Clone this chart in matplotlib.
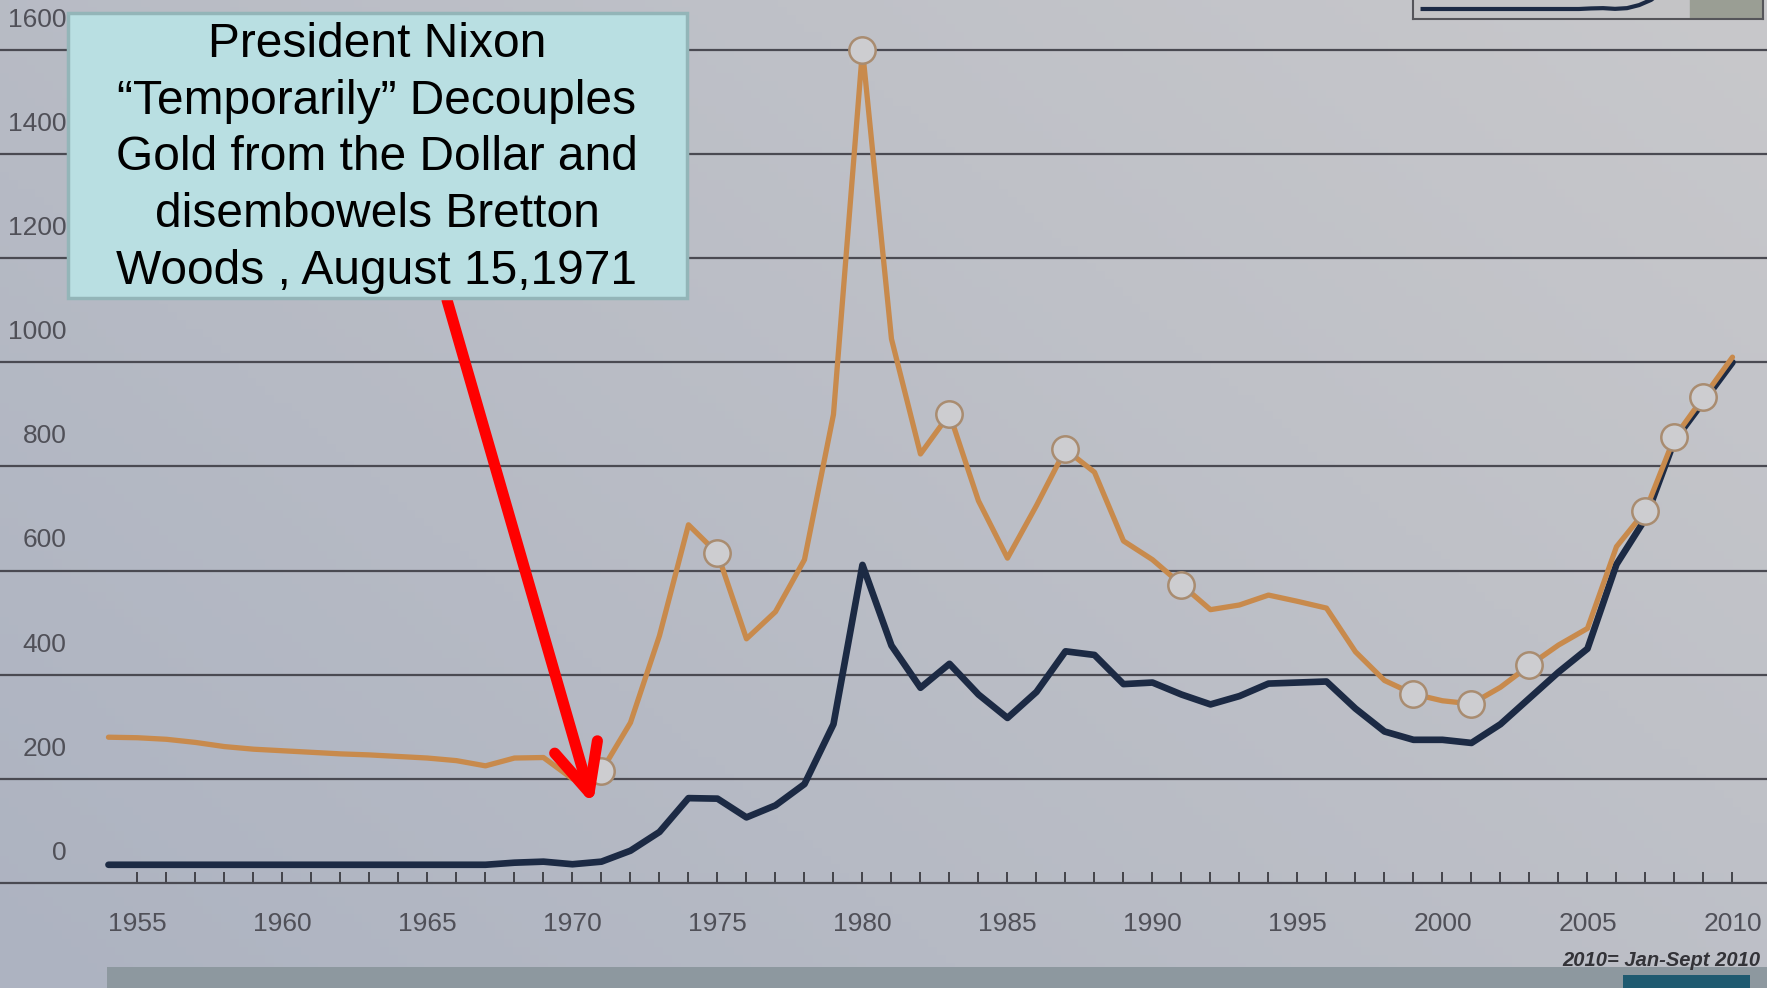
import numpy as np
import matplotlib.pyplot as plt
from matplotlib.patches import Rectangle
from matplotlib.colors import LinearSegmentedColormap

plt.rcParams['font.family'] = ['Liberation Sans', 'DejaVu Sans']

# annual gold price, US$/oz: inflation adjusted (gold) and nominal (navy)
years = list(range(1954, 2011))
real_price = [280, 279, 276, 270, 262, 257, 254, 251, 248, 246,
              243, 240, 235, 225, 240, 241, 200, 215, 308, 475,
              688, 633, 469, 521, 621, 900, 1600, 1045, 824, 901,
              734, 624, 725, 833, 789, 657, 621, 573, 525, 534,
              553, 541, 528, 444, 389, 363, 350, 344, 376, 418,
              457, 489, 646, 715, 856, 933, 1010]
nominal_price = [35, 35, 35, 35, 35, 35, 35, 35, 35, 35,
                 35, 35, 35, 35, 39, 41, 36, 41, 62, 98,
                 163, 162, 126, 149, 190, 305, 611, 456, 375, 421,
                 362, 317, 367, 445, 438, 382, 385, 362, 343, 359,
                 383, 385, 387, 335, 291, 275, 275, 269, 305, 355,
                 405, 450, 612, 700, 850, 925, 1000]
marked_years = [1971, 1975, 1980, 1983, 1987, 1991, 1999, 2001, 2003, 2007, 2008, 2009]
grid_values = list(range(0, 1601, 200))
label_years = list(range(1955, 2011, 5))

note = ("President Nixon\n“Temporarily” Decouples\nGold from the Dollar and\n"
        "disembowels Bretton\nWoods , August 15,1971")
footnote = "2010= Jan-Sept 2010"

W, H = 1767, 988
fig = plt.figure(figsize=(W / 100, H / 100), dpi=100)

# screen backlight
bg = fig.add_axes([0, 0, 1, 1], zorder=-5)
xx, yy = np.meshgrid(np.linspace(0, 1, 200), np.linspace(0, 1, 120))
shade = 0.6 * xx + 0.4 * yy
screen = LinearSegmentedColormap.from_list('screen', ['#adb3c1', '#c8c8cb'])
bg.imshow(shade, cmap=screen, aspect='auto', origin='lower', extent=[0, 1, 0, 1])
bg.axis('off')

ax = fig.add_axes([0, 0, 1, 1])
ax.patch.set_alpha(0)
ax.set_xlim(1950.26, 2011.19)
ax.set_ylim(-201.7, 1696)

for v in grid_values:
    if v > 0:
        ax.axhline(v, color='#4a4a52', lw=1.6, zorder=1)
    ax.text(0.0375, v + 58, str(v), transform=ax.get_yaxis_transform(),
            ha='right', va='center', fontsize=19, color='#505058')

for side in ['top', 'right', 'left']:
    ax.spines[side].set_visible(False)
ax.spines['bottom'].set_position(('data', 0))
ax.spines['bottom'].set_color('#4a4a52')
ax.spines['bottom'].set_linewidth(1.6)

ax.set_yticks([])
ax.set_xticks(label_years)
ax.set_xticks(years[1:], minor=True)
ax.tick_params(axis='x', which='both', direction='in', length=8, width=1.3,
               color='#3a3a40', pad=21, labelsize=19, labelcolor='#505058')

ax.plot(years, nominal_price, color='#1c2a44', lw=4.8, zorder=3,
        solid_capstyle='round')
ax.plot(years, real_price, color='#c88a4c', lw=3.8, zorder=4,
        solid_capstyle='round')
ax.plot(marked_years, [real_price[years.index(y)] for y in marked_years], 'o',
        ms=19, mfc='#cdcdd0', mec='#a98c70', mew=1.8, zorder=5)

ax.annotate('', xy=(1970.7, 150), xytext=(447, H - 300), textcoords='figure pixels',
            arrowprops=dict(arrowstyle='->,head_length=3.4,head_width=1.6',
                            color='#ff0000', lw=8, mutation_scale=10,
                            shrinkA=0, shrinkB=0),
            zorder=8)

# callout box
fig.patches.append(Rectangle((68 / W, 690 / H), 619 / W, 285 / H,
                             transform=fig.transFigure, fc='#b9dfe2',
                             ec='#93b5b8', lw=2.5, zorder=2))
fig.text(377 / W, 830 / H, note, ha='center', va='center', fontsize=34.5,
         linespacing=1.34, color='black', zorder=3)

# overview strip at the top right
ins = fig.add_axes([1413 / W, 1 - 19 / H, 350 / W, 60 / H])
ins.set_facecolor('#c4c4c6')
ins.set_xlim(1953.2, 1982.3)
ins.set_ylim(-34, 380)
ins.axvspan(1976.2, 1982.3, color='#9a9e94')
ins.plot(years, nominal_price, color='#1c2a44', lw=3)
ins.set_xticks([])
ins.set_yticks([])
for s in ins.spines.values():
    s.set_color('#55555a')
    s.set_linewidth(1.5)

# scroll bar along the bottom
fig.patches.append(Rectangle((107 / W, 0), (W - 107) / W, 21 / H,
                             transform=fig.transFigure, fc='#8d989f', lw=0, zorder=1))
fig.patches.append(Rectangle((1623 / W, 0), 127 / W, 13 / H,
                             transform=fig.transFigure, fc='#1f5a70', lw=0, zorder=1))

fig.text(1760 / W, 1 - 960 / H, footnote, ha='right', va='center', fontsize=14.5,
         style='italic', weight='bold', color='#333338')

fig.savefig('out.png', dpi=100)
